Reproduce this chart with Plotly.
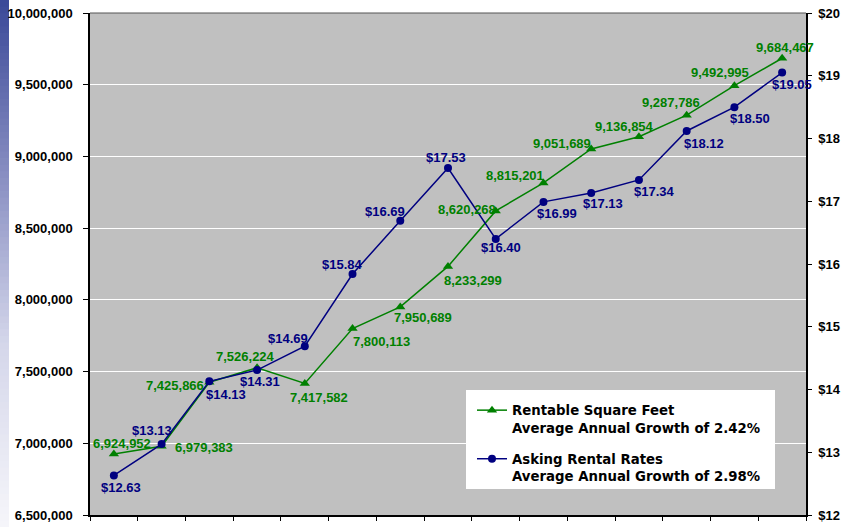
import plotly.graph_objects as go

# --- data -------------------------------------------------------------
periods = [str(i) for i in range(1, 16)]
rentable_sqft = [6924952, 6979383, 7425866, 7526224, 7417582, 7800113, 7950689,
                 8233299, 8620268, 8815201, 9051689, 9136854, 9287786, 9492995,
                 9684467]
asking_rates = [12.63, 13.13, 14.13, 14.31, 14.69, 15.84, 16.69, 17.53, 16.40,
                16.99, 17.13, 17.34, 18.12, 18.50, 19.05]
sqft_name = "Rentable Square Feet<br>Average Annual Growth of 2.42%"
rate_name = "Asking Rental Rates<br>Average Annual Growth of 2.98%"

# --- label placement (pixel offsets from each marker) -------------------
sqft_dx = [8, 42, -34, -12, 14, 29, 23, 25, -29, -28, -29, -14, -16, -14, 3]
sqft_dy = [-11, 1, 3, -11, 14, 13, 11, 14, -1, -7, -6, -10, -13, -13, -11]
rate_dx = [7, -10, 17, 3, -17, -10, -15, -2, 5, 14, 12, 16, 17, 16, 10]
rate_dy = [12, -14, 13, 11, -8, -10, -9, -10, 9, 12, 10, 12, 13, 11, 12]

GREEN = "#008000"
NAVY = "#000080"
FONT = "Liberation Sans, Arial, sans-serif"
LEGEND_FONT = "DejaVu Sans, Verdana, sans-serif"

W, H = 842, 527
ML, MR, MT, MB = 90, 36, 13, 12
PW, PH = W - ML - MR, H - MT - MB

fig = go.Figure()
fig.add_trace(go.Scatter(
    x=periods, y=rentable_sqft, name=sqft_name, mode="lines+markers",
    line=dict(color=GREEN, width=1.5),
    marker=dict(symbol="triangle-up", size=9, color=GREEN),
    legendgroup="a", yaxis="y"))
fig.add_trace(go.Scatter(
    x=periods, y=asking_rates, name=rate_name, mode="lines+markers",
    line=dict(color=NAVY, width=1.5),
    marker=dict(symbol="circle", size=8, color=NAVY),
    legendgroup="b", yaxis="y2"))

annotations = []
for i, (v, dx, dy) in enumerate(zip(rentable_sqft, sqft_dx, sqft_dy)):
    annotations.append(dict(x=i, y=v, xref="x", yref="y", text=f"{v:,}",
                            showarrow=False, xshift=dx, yshift=-dy,
                            font=dict(family=FONT, size=13, color=GREEN, weight="bold")))
for i, (v, dx, dy) in enumerate(zip(asking_rates, rate_dx, rate_dy)):
    annotations.append(dict(x=i, y=v, xref="x", yref="y2", text=f"${v:.2f}",
                            showarrow=False, xshift=dx, yshift=-dy,
                            font=dict(family=FONT, size=13, color=NAVY, weight="bold")))

# --- decorative slide strip on the left edge (vertical gradient) -------
def px_x(px):
    return (px - ML) / PW

def px_y(py):
    return (H - MB - py) / PH

stops = [(0.0, (58, 72, 152)), (0.35, (140, 146, 196)),
         (0.65, (212, 214, 234)), (1.0, (246, 246, 250))]

def grad(t):
    for (t0, c0), (t1, c1) in zip(stops[:-1], stops[1:]):
        if t <= t1:
            f = (t - t0) / (t1 - t0)
            return "rgb(%d,%d,%d)" % tuple(round(a + (b - a) * f) for a, b in zip(c0, c1))
    return "rgb(%d,%d,%d)" % stops[-1][1]

shapes = []
N = 80
for k in range(N):
    y0, y1 = H * k / N, H * (k + 1) / N + 0.8
    shapes.append(dict(type="rect", xref="paper", yref="paper",
                       x0=px_x(0), x1=px_x(9), y0=px_y(y1), y1=px_y(y0),
                       line=dict(width=0), fillcolor=grad((k + 0.5) / N),
                       layer="below"))

# top border of the plot area
shapes.append(dict(type="line", xref="paper", yref="paper", x0=0, x1=1, y0=1, y1=1,
                   line=dict(color="#555555", width=1)))
# white legend panel
shapes.append(dict(type="rect", xref="paper", yref="paper",
                   x0=px_x(466), x1=px_x(775), y0=px_y(489), y1=px_y(390),
                   fillcolor="white", line=dict(width=0), layer="above"))

tick_font = dict(family=FONT, size=13, color="black", weight="bold")

fig.update_layout(
    width=W, height=H,
    margin=dict(l=ML, r=MR, t=MT, b=MB, autoexpand=False),
    paper_bgcolor="white", plot_bgcolor="#c0c0c0",
    font=dict(family=FONT, size=13, color="black", weight="bold"),
    showlegend=True,
    legend=dict(x=px_x(472), y=px_y(395), xanchor="left", yanchor="top",
                bgcolor="rgba(0,0,0,0)", borderwidth=0, valign="top",
                font=dict(family=LEGEND_FONT, size=13.3, color="black", weight="bold"),
                tracegroupgap=11, itemwidth=30),
    xaxis=dict(type="category", showticklabels=False, tickson="boundaries",
               ticks="outside", ticklen=4, tickcolor="black", tickwidth=1,
               showline=True, linecolor="black", linewidth=1.5,
               showgrid=False, zeroline=False, range=[-0.5, 14.5], automargin=False),
    # inner halves of the crossing tick marks
    xaxis2=dict(overlaying="x", anchor="y", side="bottom", range=[-0.5, 14.5],
                tick0=-0.5, dtick=1, ticks="inside", ticklen=3, tickcolor="black",
                showticklabels=False, showline=False, showgrid=False, zeroline=False,
                automargin=False),
    yaxis=dict(range=[6500000, 10000000], dtick=500000, tickformat=",",
               ticks="outside", ticklen=5, tickcolor="black", ticklabelstandoff=8,
               showline=True, linecolor="black", linewidth=1.5,
               gridcolor="white", gridwidth=1, zeroline=False,
               tickfont=tick_font, automargin=False),
    yaxis2=dict(range=[12, 20], dtick=1, tickprefix="$", overlaying="y", side="right",
                ticks="outside", ticklen=4, tickcolor="black", ticklabelstandoff=4,
                showline=True, linecolor="black", linewidth=1.5,
                showgrid=False, zeroline=False, tickfont=tick_font, automargin=False),
    yaxis3=dict(range=[12, 20], dtick=1, overlaying="y", side="right", anchor="x",
                ticks="inside", ticklen=3, tickcolor="black",
                showticklabels=False, showline=False, showgrid=False, zeroline=False,
                automargin=False),
    annotations=annotations, shapes=shapes,
)

fig.write_html("out.html")
